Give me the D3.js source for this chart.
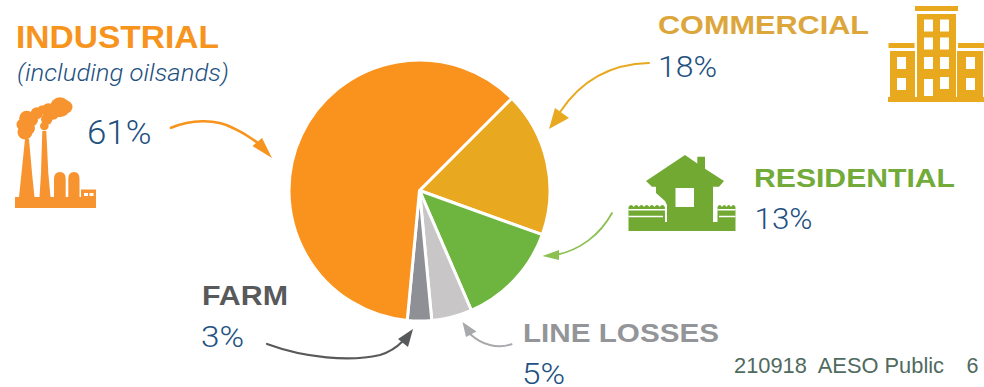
<!DOCTYPE html>
<html><head><meta charset="utf-8">
<script src="https://cdn.jsdelivr.net/npm/d3@7"></script>
<style>html,body{margin:0;padding:0;background:#fff}svg{display:block}</style>
</head><body><svg id="chart" width="984" height="387"></svg>
<script>
// Electricity consumption by sector, as shares of the total
const sectors = ["Commercial", "Residential", "Line losses", "Farm", "Industrial"];
const shares = [18, 13, 5, 3, 61];
const sliceColors = ["#E8A921", "#6DB53F", "#C8C6C6", "#8E9095", "#FA931E"];

const headings = ["INDUSTRIAL", "COMMERCIAL", "RESIDENTIAL", "FARM", "LINE LOSSES"];
const headingColors = ["#F7941D", "#DCA63B", "#72AB3A", "#58595B", "#939598"];
const percentLabels = ["61%", "18%", "13%", "3%", "5%"];

const svg = d3.select("#chart");
const BLUE = "#22507F";
const SANS = "'Liberation Sans', Arial, sans-serif";

// Pie, starting at the orange/gold boundary at 45 degrees
const cx = 419.5, cy = 190.5, radius = 130.5;
const pie = d3.pie().sort(null).startAngle(Math.PI / 4).endAngle(Math.PI / 4 + 2 * Math.PI);
const arc = d3.arc().innerRadius(0).outerRadius(radius);
svg.append("g").attr("transform", `translate(${cx},${cy})`)
  .selectAll("path").data(pie(shares)).join("path")
  .attr("d", arc)
  .attr("fill", (d, i) => sliceColors[i])
  .attr("stroke", "#fff").attr("stroke-width", 3).attr("stroke-linejoin", "round");

// Headings
const headingLayout = [
  {x: 16, y: 47.5, size: 32, w: 203},
  {x: 658, y: 34, size: 26.5, w: 211},
  {x: 754, y: 187, size: 26.5, w: 201},
  {x: 202, y: 305, size: 27, w: 86},
  {x: 523, y: 342, size: 26.5, w: 196}
];
svg.append("g").selectAll("text").data(headings).join("text")
  .attr("x", (d, i) => headingLayout[i].x)
  .attr("y", (d, i) => headingLayout[i].y)
  .attr("fill", (d, i) => headingColors[i])
  .attr("font-family", SANS)
  .attr("font-weight", 700)
  .attr("font-size", (d, i) => headingLayout[i].size)
  .attr("textLength", (d, i) => headingLayout[i].w)
  .attr("lengthAdjust", "spacingAndGlyphs")
  .text(d => d);

// Percentages
const percentLayout = [
  {x: 87, y: 144, size: 33, w: 64.5},
  {x: 658, y: 77, size: 29.5, w: 59},
  {x: 754.5, y: 229, size: 29.5, w: 58},
  {x: 201, y: 347, size: 29.5, w: 43},
  {x: 522, y: 384, size: 29.5, w: 43}
];
svg.append("g").selectAll("text").data(percentLabels).join("text")
  .attr("x", (d, i) => percentLayout[i].x)
  .attr("y", (d, i) => percentLayout[i].y)
  .attr("fill", BLUE)
  .attr("font-family", "Roboto, sans-serif")
  .attr("font-weight", 300)
  .attr("font-size", (d, i) => percentLayout[i].size)
  .attr("textLength", (d, i) => percentLayout[i].w)
  .attr("lengthAdjust", "spacingAndGlyphs")
  .text(d => d);

svg.append("text").attr("x", 17).attr("y", 81)
  .attr("fill", BLUE).attr("font-family", "Roboto, sans-serif")
  .attr("font-weight", 300).attr("font-style", "italic")
  .attr("font-size", 24).attr("textLength", 212).attr("lengthAdjust", "spacingAndGlyphs")
  .text("(including oilsands)");

// Footer
const footerColor = "#4F6A5E";
svg.append("text").attr("x", 734).attr("y", 373)
  .attr("fill", footerColor).attr("font-family", SANS)
  .attr("font-size", 21.5).style("white-space", "pre")
  .attr("textLength", 210).attr("lengthAdjust", "spacingAndGlyphs")
  .text("210918  AESO Public");
svg.append("text").attr("x", 966.5).attr("y", 373)
  .attr("fill", footerColor).attr("font-family", SANS)
  .attr("font-size", 21.5).text("6");

// Curved leader arrows from the labels to the slices
function arrow(d, color, width, head) {
  const g = svg.append("g");
  g.append("path").attr("d", d).attr("fill", "none").attr("stroke", color)
    .attr("stroke-width", width).attr("stroke-linecap", "round");
  g.append("path").attr("d", head).attr("fill", color);
}
arrow("M171,127.7 C190,120 215,118 233,128 C242,132 250,137 258,143", "#F7941D", 2.6, "M272,158 L252.5,146 L262,138 Z");
arrow("M649,63 C605,64 578,85 560,112", "#E8A921", 2, "M549,129 L555,108 L569,118 Z");
arrow("M612,213 C600,235 580,250 556,255", "#8CC152", 1.8, "M542.5,256 L559,250 L559,260 Z");
arrow("M511.5,344.3 C497,349 482,345 470,334", "#A7A9AC", 2, "M462.5,322 L466,337 L476.5,331.5 Z");
arrow("M267,344 C305,358 350,362 380,355 C390,352 397,347 403,341", "#58595B", 2.2, "M413,329 L398,339 L408,347 Z");

// Factory icon
const factory = svg.append("g").attr("fill", "#F79430");
factory.append("path").attr("d",
  "M15,197 L19,197 L21.5,173 L25,139 L29,139 L32,173 L34.5,197 L39.5,197 L41,173 L42.3,131 L46.3,131 L48.3,173 L50.5,197 L54,197 L54,179 " +
  "Q54,172 60,172 Q65.7,172 65.7,179 L65.7,197 L68.3,197 L68.3,179 Q68.3,172 74,172 Q79.5,172 79.5,179 L79.5,197 L81,197 L81,189.5 L96,189.5 L96,208 L15,208 Z");
[[60, 107.3, 10], [66, 107, 6.5], [48.3, 110, 6.7], [53.3, 114, 5.7], [46.7, 119.3, 5.7], [44.3, 126, 4.3],
 [36.7, 113.3, 6], [26.7, 118.3, 7.5], [22, 124.5, 5.5], [25, 132, 7.5], [28, 128, 7], [32, 120, 6], [42, 110, 4.5]]
  .forEach(c => factory.append("circle").attr("cx", c[0]).attr("cy", c[1]).attr("r", c[2]));
factory.append("path").attr("d", "M84,193h4v3h-4z M89.5,193h4v3h-4z").attr("fill", "#fff");

// Office building icon
const building = svg.append("g").attr("fill", "#E8A91F");
[[915, 6, 43, 5], [917, 14, 39, 84], [888.5, 43, 26, 5], [958, 43, 26, 5],
 [890, 51, 25, 47], [957, 51, 26, 47], [888, 97, 96, 5]].forEach(r =>
  building.append("rect").attr("x", r[0]).attr("y", r[1]).attr("width", r[2]).attr("height", r[3]));
[[924, 19.5, 9, 12], [940, 19.5, 9, 12], [924, 37.5, 9, 12], [940, 37.5, 9, 12],
 [924, 57, 9, 12], [940, 57, 9, 12], [924, 79, 9, 17], [940, 77, 9, 12],
 [897, 57, 9, 12], [897, 78, 9, 12], [966, 57, 9, 12], [966, 78, 9, 12]].forEach(r =>
  building.append("rect").attr("x", r[0]).attr("y", r[1]).attr("width", r[2]).attr("height", r[3]).attr("fill", "#fff"));

// House icon
const house = svg.append("g").attr("fill", "#72A933");
house.append("path").attr("d",
  "M685,155 L697.3,163.5 L697.3,156.7 L705,156.7 L705,168.7 L724,181 L719,186.7 L713,186.7 L713,222 L735.5,222 L735.5,231 " +
  "L628.5,231 L628.5,222 L667,222 L667,205 L665,201 L656,193 L656,186.7 L652,186.7 L646,181 Z");
house.append("path").attr("d",
  "M628.5,207 q2.6,-4 5.2,0 q2.6,-4 5.2,0 q2.6,-4 5.2,0 q2.6,-4 5.2,0 q2.6,-4 5.2,0 q2.6,-4 5.2,0 q2.6,-4 5.2,0 L665,222 L628.5,222 Z " +
  "M717.5,207 q2.25,-4 4.5,0 q2.25,-4 4.5,0 q2.25,-4 4.5,0 q2.25,-4 4.5,0 L735.5,222 L717.5,222 Z");
house.append("rect").attr("x", 675.5).attr("y", 188).attr("width", 18.5).attr("height", 19).attr("fill", "#fff");
house.append("path").attr("d", "M628.5,209.8H665 M628.5,216.6H663 M717.5,209.8H735.5 M719,216.6H735.5")
  .attr("stroke", "#fff").attr("stroke-width", 1.5).attr("fill", "none");
</script></body></html>
